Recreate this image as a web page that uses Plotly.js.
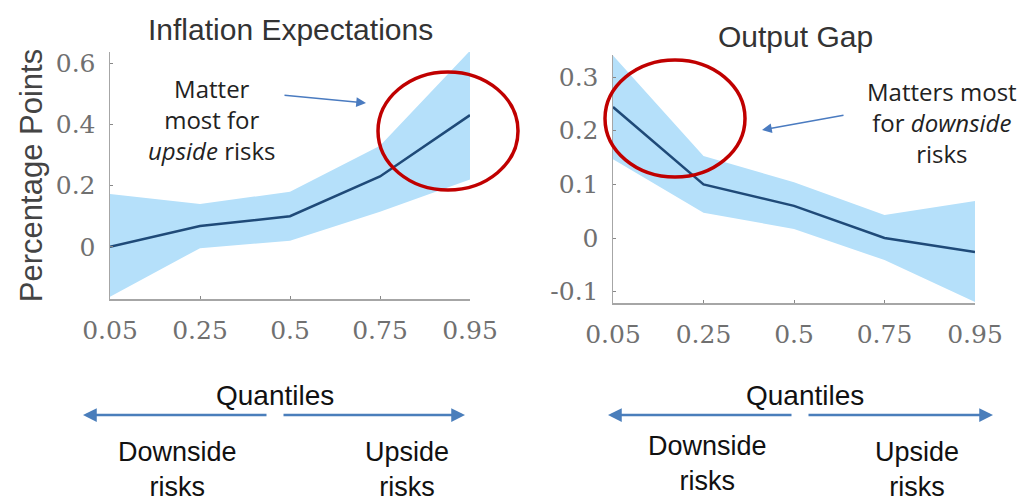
<!DOCTYPE html>
<html>
<head>
<meta charset="utf-8">
<script src="https://cdn.plot.ly/plotly-3.0.1.min.js"></script>
<style>html,body{margin:0;padding:0;background:#fff;}#chart{width:1023px;height:503px;}</style>
</head>
<body>
<div id="chart"></div>
<script>
// ---- data ----
const quantiles = ['0.05', '0.25', '0.5', '0.75', '0.95'];

const inflationMedian = [0.0, 0.068, 0.10, 0.23, 0.43];
const inflationUpper  = [0.173, 0.14, 0.18, 0.33, 0.64];
const inflationLower  = [-0.163, -0.004, 0.02, 0.115, 0.22];

const outputMedian = [0.244, 0.10, 0.06, 0.0, -0.026];
const outputUpper  = [0.34, 0.153, 0.104, 0.043, 0.069];
const outputLower  = [0.147, 0.047, 0.017, -0.041, -0.119];

const inflationTicks = [0, 0.2, 0.4, 0.6];
const inflationTickText = ['0', '0.2', '0.4', '0.6'];
const outputTicks = [-0.1, 0, 0.1, 0.2, 0.3];
const outputTickText = ['-0.1', '0', '0.1', '0.2', '0.3'];

// ---- helpers for placing layout decorations in pixel terms ----
const W = 1023, H = 503;
const px = x => x / W;
const py = y => 1 - y / H;

const bandColor = '#b5e0fa';
const lineColor = '#1f4a78';

function band(x, lower, upper, xa, ya) {
  return [
    {x: x, y: lower, xaxis: xa, yaxis: ya, mode: 'lines', line: {width: 0, color: bandColor}, hoverinfo: 'skip', showlegend: false},
    {x: x, y: upper, xaxis: xa, yaxis: ya, mode: 'lines', line: {width: 0, color: bandColor}, fill: 'tonexty', fillcolor: bandColor, hoverinfo: 'skip', showlegend: false}
  ];
}

const traces = [
  ...band(quantiles, inflationLower, inflationUpper, 'x', 'y'),
  {x: quantiles, y: inflationMedian, xaxis: 'x', yaxis: 'y', mode: 'lines', line: {color: lineColor, width: 2.5}, showlegend: false},
  ...band(quantiles, outputLower, outputUpper, 'x2', 'y2'),
  {x: quantiles, y: outputMedian, xaxis: 'x2', yaxis: 'y2', mode: 'lines', line: {color: lineColor, width: 2.5}, showlegend: false}
];

const tickFont = {family: 'DejaVu Serif, serif', size: 25, color: '#707070'};
const axisCommon = {
  showgrid: false, zeroline: false, showline: true, linecolor: '#a6a6a6', linewidth: 1.5,
  ticks: 'inside', ticklen: 3, tickcolor: '#888', tickwidth: 1, tickfont: tickFont
};

const sans = 'Liberation Sans, Arial, sans-serif';
function label(text, x, y, size, color, family) {
  return {text: text, xref: 'paper', yref: 'paper', x: px(x), y: py(y), xanchor: 'center', yanchor: 'middle',
    showarrow: false, align: 'center', font: {family: family || sans, size: size, color: color}};
}
function arrow(tailX, tailY, headX, headY, width, size, color) {
  return {text: '', xref: 'paper', yref: 'paper', x: px(headX), y: py(headY), ax: tailX - headX, ay: tailY - headY,
    showarrow: true, arrowhead: 2, arrowsize: size, arrowwidth: width, arrowcolor: color, standoff: 0};
}

const layout = {
  width: W, height: H,
  margin: {l: 0, r: 0, t: 0, b: 0},
  paper_bgcolor: '#fff', plot_bgcolor: '#fff',
  showlegend: false,
  xaxis: Object.assign({}, axisCommon, {type: 'category', range: [0, 4], domain: [px(110), px(470)], anchor: 'y', ticklabelstandoff: 8}),
  yaxis: Object.assign({}, axisCommon, {range: [-0.17, 0.636], domain: [py(299), py(52)], anchor: 'x',
    tickvals: inflationTicks, ticktext: inflationTickText, ticklabelstandoff: 8,
    title: {text: 'Percentage Points', font: {family: sans, size: 31, color: '#444'}, standoff: 4}}),
  xaxis2: Object.assign({}, axisCommon, {type: 'category', range: [0, 4], domain: [px(613), px(975)], anchor: 'y2', ticklabelstandoff: 8}),
  yaxis2: Object.assign({}, axisCommon, {range: [-0.121, 0.341], domain: [py(303), py(55)], anchor: 'x2',
    tickvals: outputTicks, ticktext: outputTickText, ticklabelstandoff: 8}),
  shapes: [
    {type: 'circle', xref: 'paper', yref: 'paper', x0: px(378), x1: px(518), y0: py(190), y1: py(72), line: {color: '#c00000', width: 3.5}},
    {type: 'circle', xref: 'paper', yref: 'paper', x0: px(605), x1: px(745), y0: py(177), y1: py(60), line: {color: '#c00000', width: 3.5}}
  ],
  annotations: [
    label('Inflation Expectations', 290, 30, 30, '#333'),
    label('Output Gap', 795, 36, 30, '#333'),
    label('Matter<br>most for<br><i>upside</i> risks', 212, 120, 24, '#222', 'Open Sans, sans-serif'),
    label('Matters most<br>for <i>downside</i><br>risks', 942, 122, 24, '#222', 'Open Sans, sans-serif'),
    arrow(283, 95, 366, 103, 1.5, 1.3, '#4a7bc0'),
    arrow(845, 115, 762, 130, 1.5, 1.3, '#4a7bc0'),
    // bottom explanatory arrows, left chart
    label('Quantiles', 275, 395, 28, '#111'),
    arrow(268, 415, 83, 415, 2.5, 1.1, '#4a7ebb'),
    arrow(282, 415, 465, 415, 2.5, 1.1, '#4a7ebb'),
    label('Downside<br>risks', 177, 469, 27, '#111'),
    label('Upside<br>risks', 407, 469, 27, '#111'),
    // bottom explanatory arrows, right chart
    label('Quantiles', 805, 395, 28, '#111'),
    arrow(793, 415, 608, 415, 2.5, 1.1, '#4a7ebb'),
    arrow(807, 415, 993, 415, 2.5, 1.1, '#4a7ebb'),
    label('Downside<br>risks', 707, 463, 27, '#111'),
    label('Upside<br>risks', 917, 469, 27, '#111')
  ]
};

Plotly.newPlot('chart', traces, layout, {staticPlot: true, displayModeBar: false});
</script>
</body>
</html>
